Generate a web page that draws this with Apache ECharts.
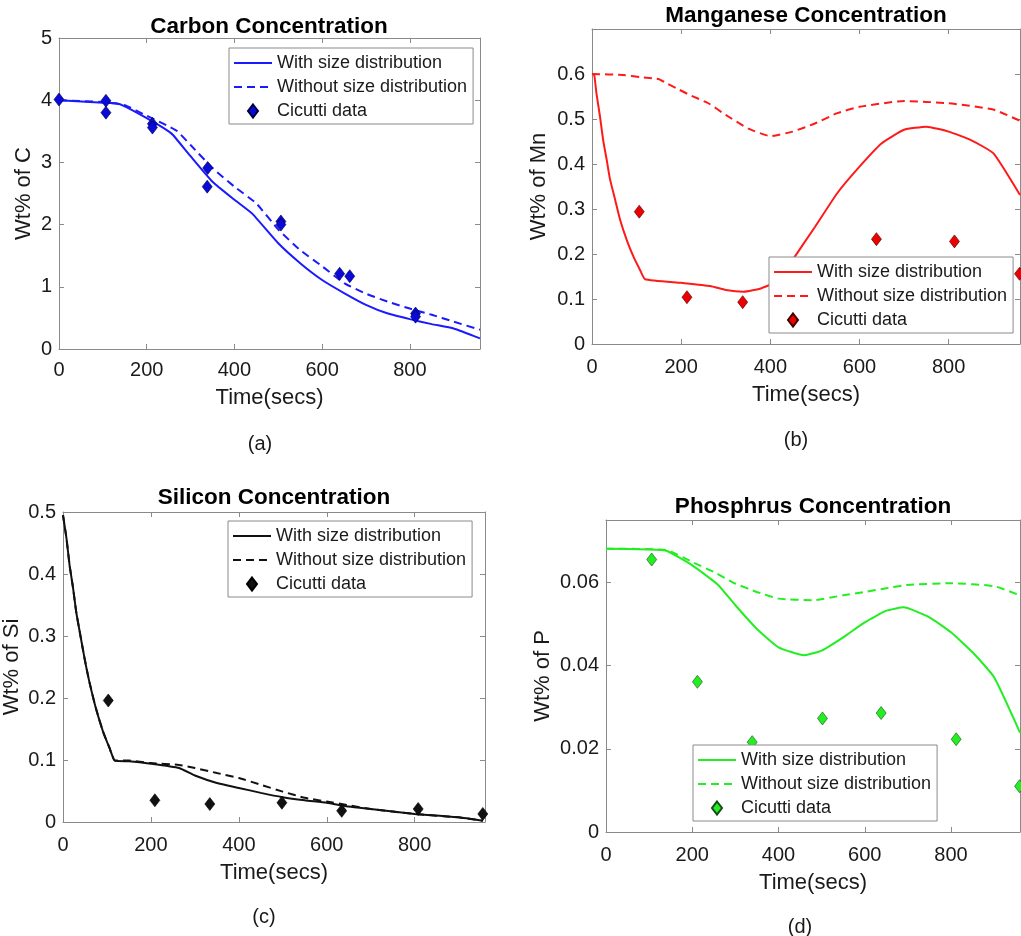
<!DOCTYPE html>
<html>
<head>
<meta charset="utf-8">
<script src="https://cdn.jsdelivr.net/npm/echarts@6/dist/echarts.min.js"></script>
<style>
html,body{margin:0;padding:0;background:#fff;}
#chart{width:1021px;height:936px;}
</style>
</head>
<body>
<div id="chart"></div>
<script>
// ---------- Data ----------
const seriesNames = ['With size distribution', 'Without size distribution', 'Cicutti data'];
const panelTitles = ['Carbon Concentration', 'Manganese Concentration', 'Silicon Concentration', 'Phosphrus Concentration'];
const panelYNames = ['Wt% of C', 'Wt% of Mn', 'Wt% of Si', 'Wt% of P'];
const panelCaptions = ['(a)', '(b)', '(c)', '(d)'];
const xAxisName = 'Time(secs)';

// Carbon
const carbonWithT = [0, 100, 130, 150, 200, 250, 260, 300, 350, 400, 440, 500, 550, 600, 650, 700, 750, 800, 850, 900, 960];
const carbonWith = [4.0, 3.96, 3.95, 3.9, 3.71, 3.5, 3.44, 3.1, 2.69, 2.4, 2.18, 1.7, 1.38, 1.11, 0.9, 0.71, 0.57, 0.48, 0.4, 0.33, 0.17];
const carbonWithoutT = [0, 100, 150, 200, 250, 270, 300, 350, 400, 450, 500, 550, 600, 650, 700, 750, 800, 850, 900, 960];
const carbonWithout = [4.0, 3.97, 3.92, 3.75, 3.58, 3.5, 3.28, 2.91, 2.61, 2.34, 1.92, 1.59, 1.33, 1.06, 0.89, 0.76, 0.65, 0.55, 0.44, 0.31];
const carbonDataT = [0, 107, 107, 213, 213, 339, 338, 506, 506, 640, 663, 813, 813, 961];
const carbonData = [4.01, 3.99, 3.8, 3.62, 3.56, 2.91, 2.61, 2.05, 2.0, 1.21, 1.17, 0.57, 0.52, 0.04];

// Manganese
const mnWithT = [0, 5, 10, 18, 25, 33, 40, 52, 63, 78, 93, 108, 119, 200, 265, 300, 340, 380, 420, 450, 500, 550, 600, 650, 700, 750, 800, 850, 900, 960];
const mnWith = [0.6, 0.598, 0.557, 0.505, 0.453, 0.409, 0.368, 0.32, 0.276, 0.231, 0.194, 0.164, 0.144, 0.136, 0.129, 0.12, 0.116, 0.124, 0.142, 0.187, 0.26, 0.335, 0.394, 0.446, 0.476, 0.483, 0.472, 0.453, 0.424, 0.331];
const mnWithoutT = [0, 70, 108, 149, 168, 194, 220, 261, 300, 350, 400, 450, 500, 550, 600, 700, 800, 900, 960];
const mnWithout = [0.6, 0.598, 0.593, 0.589, 0.579, 0.566, 0.553, 0.535, 0.509, 0.479, 0.462, 0.472, 0.49, 0.513, 0.527, 0.54, 0.535, 0.521, 0.496];
const mnDataT = [106, 213, 338, 638, 813, 959];
const mnData = [0.294, 0.104, 0.093, 0.233, 0.228, 0.156];

// Silicon
const siWithT = [0, 8, 15, 23, 30, 38, 49, 60, 75, 91, 106, 118, 150, 200, 264, 300, 350, 400, 450, 500, 550, 600, 650, 700, 800, 900, 955];
const siWith = [0.495, 0.457, 0.414, 0.377, 0.339, 0.307, 0.264, 0.226, 0.183, 0.146, 0.119, 0.099, 0.098, 0.094, 0.087, 0.075, 0.063, 0.055, 0.047, 0.04, 0.035, 0.031, 0.025, 0.021, 0.013, 0.0075, 0.002];
const siWithoutT = [0, 8, 15, 23, 30, 38, 49, 60, 75, 91, 106, 118, 150, 200, 264, 300, 350, 400, 450, 500, 550, 600, 650, 700, 800, 900, 955];
const siWithout = [0.495, 0.457, 0.414, 0.377, 0.339, 0.307, 0.264, 0.226, 0.183, 0.146, 0.119, 0.099, 0.099, 0.095, 0.092, 0.087, 0.079, 0.071, 0.06, 0.049, 0.039, 0.033, 0.027, 0.021, 0.013, 0.0075, 0.002];
const siDataT = [103, 209, 334, 498, 634, 808, 955];
const siData = [0.196, 0.035, 0.029, 0.031, 0.018, 0.021, 0.013];

// Phosphorus
const pWithT = [0, 100, 140, 200, 260, 300, 350, 400, 460, 500, 550, 600, 650, 690, 750, 800, 850, 900, 960];
const pWith = [0.0681, 0.0679, 0.0676, 0.0641, 0.0594, 0.0545, 0.0488, 0.0444, 0.0425, 0.0436, 0.0468, 0.0504, 0.0532, 0.054, 0.0516, 0.048, 0.0432, 0.0372, 0.0239];
const pWithoutT = [0, 140, 200, 250, 300, 350, 400, 480, 550, 600, 650, 700, 800, 900, 960];
const pWithout = [0.0681, 0.0678, 0.0649, 0.0625, 0.0597, 0.0577, 0.0561, 0.0557, 0.0569, 0.0577, 0.0586, 0.0594, 0.0598, 0.0591, 0.0569];
const pDataT = [106, 212, 339, 502, 638, 812, 959];
const pData = [0.0655, 0.0361, 0.0216, 0.0273, 0.0286, 0.0223, 0.011];

// y axis ranges and tick steps
const yMax = [5, 0.7, 0.5, 0.075];
const yStep = [1, 0.1, 0.1, 0.02];
const yShowMax = [true, false, true, false];
const xMax = 960;
const xStep = 200;

// ---------- Layout / style ----------
const FONT = '"Liberation Sans", Arial, Helvetica, sans-serif';
const TXT = '#1a1a1a';
const AX = '#8a8a8a';
const grids = [
  {left: 59, top: 38, width: 421, height: 311},
  {left: 592, top: 29, width: 428, height: 315},
  {left: 63, top: 512, width: 422, height: 310},
  {left: 606, top: 520, width: 414, height: 312}
];
const colors = [
  {line: '#1a1aff', fill: '#0a0ad8', edge: '#000040'},
  {line: '#ff1a1a', fill: '#ee0000', edge: '#400000'},
  {line: '#111111', fill: '#111111', edge: '#000000'},
  {line: '#22ee22', fill: '#22ee22', edge: '#1a4a1a'}
];
const yNameGap = [24, 42, 40, 52];
const titlePos = [[269, 15], [806, 4], [274, 486], [813, 495]];
const captionPos = [[260, 434], [796, 430], [264, 907], [800, 917]];
const legendPos = [
  {left: 229, top: 48},
  {left: 769, top: 257},
  {left: 228, top: 521},
  {left: 693, top: 745}
];
const DIAMOND = 'path://M5,0L10,6.5L5,13L0,6.5Z';

const lineData = [
  [[carbonWithT, carbonWith], [carbonWithoutT, carbonWithout], [carbonDataT, carbonData]],
  [[mnWithT, mnWith], [mnWithoutT, mnWithout], [mnDataT, mnData]],
  [[siWithT, siWith], [siWithoutT, siWithout], [siDataT, siData]],
  [[pWithT, pWith], [pWithoutT, pWithout], [pDataT, pData]]
];

function pairs(t, v) { return t.map((x, i) => [x, v[i]]); }

const xAxes = [], yAxes = [], series = [], legends = [], titles = [];
for (let i = 0; i < 4; i++) {
  const tickStyle = {show: true, inside: true, length: 5, lineStyle: {color: AX, width: 1}};
  const lineStyle = {show: true, onZero: false, lineStyle: {color: AX, width: 1}};
  xAxes.push({
    type: 'value', gridIndex: i, min: 0, max: xMax, interval: xStep, position: 'bottom',
    axisLine: lineStyle, axisTick: tickStyle, splitLine: {show: false},
    axisLabel: {color: TXT, fontSize: 20, fontFamily: FONT, margin: i === 0 ? 11 : 13, showMaxLabel: false},
    name: xAxisName, nameLocation: 'middle', nameGap: i === 0 ? 38 : 40,
    nameTextStyle: {color: TXT, fontSize: 22, fontFamily: FONT}
  });
  xAxes.push({
    type: 'value', gridIndex: i, min: 0, max: xMax, interval: xStep, position: 'top',
    axisLine: lineStyle, axisTick: tickStyle, splitLine: {show: false}, axisLabel: {show: false}
  });
  yAxes.push({
    type: 'value', gridIndex: i, min: 0, max: yMax[i], interval: yStep[i], position: 'left',
    axisLine: lineStyle, axisTick: tickStyle, splitLine: {show: false},
    axisLabel: {color: TXT, fontSize: 20, fontFamily: FONT, margin: 7, showMaxLabel: yShowMax[i]},
    name: panelYNames[i], nameLocation: 'middle', nameGap: yNameGap[i],
    nameTextStyle: {color: TXT, fontSize: 22, fontFamily: FONT}
  });
  yAxes.push({
    type: 'value', gridIndex: i, min: 0, max: yMax[i], interval: yStep[i], position: 'right',
    axisLine: lineStyle, axisTick: tickStyle, splitLine: {show: false}, axisLabel: {show: false}
  });

  const c = colors[i];
  const key = 'p' + i + '|';
  const d = lineData[i];
  series.push({
    name: key + seriesNames[0], type: 'line', xAxisIndex: 2 * i, yAxisIndex: 2 * i,
    data: pairs(d[0][0], d[0][1]), symbol: 'none', smooth: 0.15,
    lineStyle: {color: c.line, width: 2}, itemStyle: {color: c.line}, z: 3
  });
  series.push({
    name: key + seriesNames[1], type: 'line', xAxisIndex: 2 * i, yAxisIndex: 2 * i,
    data: pairs(d[1][0], d[1][1]), symbol: 'none', smooth: 0.15,
    lineStyle: {color: c.line, width: 2, type: [8, 5]}, itemStyle: {color: c.line}, z: 3
  });
  series.push({
    name: key + seriesNames[2], type: 'scatter', xAxisIndex: 2 * i, yAxisIndex: 2 * i,
    data: pairs(d[2][0], d[2][1]), symbol: 'diamond', symbolSize: [10, 13],
    itemStyle: {color: c.fill, borderColor: c.edge, borderWidth: 0.6, opacity: 1}, z: 4
  });

  const hidden = {color: 'rgba(0,0,0,0)', borderColor: 'rgba(0,0,0,0)', borderWidth: 0, opacity: 0};
  legends.push({
    orient: 'vertical', left: legendPos[i].left, top: legendPos[i].top,
    data: [
      {name: key + seriesNames[0], itemStyle: hidden},
      {name: key + seriesNames[1], itemStyle: hidden},
      {name: key + seriesNames[2], icon: DIAMOND}
    ],
    formatter: n => n.split('|')[1],
    itemWidth: 38, itemHeight: 13, itemGap: 4, symbolKeepAspect: true,
    padding: [5, 6, 3, 4],
    backgroundColor: '#fff', borderColor: AX, borderWidth: 1, borderRadius: 0,
    textStyle: {color: TXT, fontSize: 18, fontFamily: FONT, lineHeight: 20},
    selectedMode: false, z: 10
  });

  titles.push({
    text: panelTitles[i], left: titlePos[i][0], top: titlePos[i][1], textAlign: 'center', padding: 0,
    textStyle: {color: '#000', fontSize: 22.5, fontWeight: 'bold', fontFamily: FONT}
  });
  titles.push({
    text: panelCaptions[i], left: captionPos[i][0], top: captionPos[i][1], textAlign: 'center', padding: 0,
    textStyle: {color: TXT, fontSize: 20, fontWeight: 'normal', fontFamily: FONT}
  });
}

const chart = echarts.init(document.getElementById('chart'), null, {renderer: 'canvas'});
chart.setOption({
  animation: false,
  backgroundColor: '#fff',
  title: titles,
  grid: grids,
  xAxis: xAxes,
  yAxis: yAxes,
  legend: legends,
  series: series
});
</script>
</body>
</html>
